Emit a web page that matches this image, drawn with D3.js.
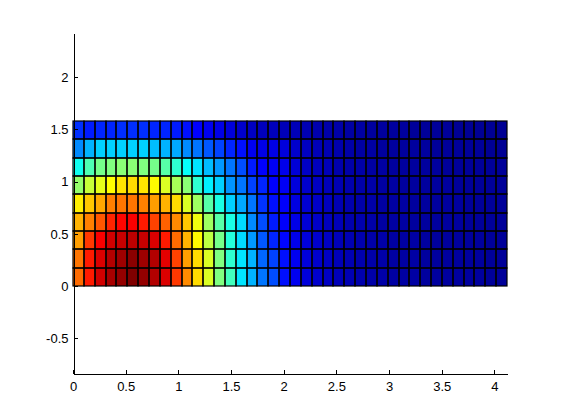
<!DOCTYPE html>
<html>
<head>
<meta charset="utf-8">
<script src="https://d3js.org/d3.v7.min.js"></script>
<style>
    body { margin: 0; background: #fff; }
    text { font-family: "Liberation Sans", Arial, sans-serif; font-size: 13px; fill: #000; }
</style>
</head>
<body>
<div id="chart"></div>
<script>
// Grid extent (data units) and cell counts
const gridWidth = 4.12, gridHeight = 1.58;
const nCols = 40, nRows = 9;

// Axis limits and tick values
const xLimits = [0, 4.12];
const yLimits = [-0.83, 2.42];
const xTicks = [0, 0.5, 1, 1.5, 2, 2.5, 3, 3.5, 4];
const yTicks = [-0.5, 0, 0.5, 1, 1.5, 2];

// Cell values (0..1, jet colormap), one array per row, bottom row first
const row0 = [0.77, 0.85, 0.92, 0.96, 0.98, 1.00, 0.98, 0.95, 0.91, 0.82,
              0.74, 0.66, 0.59, 0.50, 0.44, 0.35, 0.30, 0.24, 0.20, 0.14,
              0.11, 0.09, 0.075, 0.065, 0.055, 0.05, 0.045, 0.04, 0.04, 0.035,
              0.035, 0.035, 0.03, 0.03, 0.03, 0.03, 0.03, 0.03, 0.025, 0.025];
const row1 = [0.76, 0.85, 0.91, 0.95, 0.97, 0.99, 0.97, 0.95, 0.90, 0.81,
              0.72, 0.66, 0.59, 0.50, 0.42, 0.35, 0.30, 0.225, 0.19, 0.14,
              0.11, 0.09, 0.075, 0.065, 0.055, 0.05, 0.045, 0.04, 0.04, 0.035,
              0.035, 0.035, 0.03, 0.03, 0.03, 0.03, 0.03, 0.03, 0.025, 0.025];
const row2 = [0.72, 0.82, 0.88, 0.92, 0.93, 0.94, 0.93, 0.91, 0.85, 0.77,
              0.70, 0.63, 0.56, 0.49, 0.41, 0.34, 0.275, 0.21, 0.16, 0.13,
              0.105, 0.09, 0.075, 0.065, 0.055, 0.05, 0.045, 0.04, 0.04, 0.035,
              0.035, 0.035, 0.03, 0.03, 0.03, 0.03, 0.03, 0.03, 0.025, 0.025];
const row3 = [0.70, 0.75, 0.79, 0.84, 0.87, 0.88, 0.85, 0.81, 0.78, 0.74,
              0.68, 0.61, 0.53, 0.46, 0.40, 0.34, 0.26, 0.20, 0.15, 0.12,
              0.10, 0.085, 0.07, 0.06, 0.055, 0.045, 0.045, 0.04, 0.035, 0.035,
              0.035, 0.03, 0.03, 0.03, 0.03, 0.03, 0.025, 0.025, 0.025, 0.025];
const row4 = [0.64, 0.68, 0.71, 0.75, 0.76, 0.76, 0.75, 0.72, 0.70, 0.66,
              0.59, 0.53, 0.46, 0.40, 0.33, 0.29, 0.24, 0.175, 0.14, 0.12,
              0.095, 0.08, 0.07, 0.06, 0.05, 0.045, 0.04, 0.04, 0.035, 0.035,
              0.035, 0.03, 0.03, 0.03, 0.03, 0.03, 0.025, 0.025, 0.025, 0.025];
const row5 = [0.52, 0.57, 0.60, 0.625, 0.65, 0.66, 0.65, 0.63, 0.59, 0.54,
              0.51, 0.42, 0.36, 0.33, 0.27, 0.24, 0.19, 0.16, 0.125, 0.115,
              0.09, 0.075, 0.065, 0.055, 0.05, 0.045, 0.04, 0.04, 0.035, 0.035,
              0.03, 0.03, 0.03, 0.03, 0.03, 0.025, 0.025, 0.025, 0.025, 0.025];
const row6 = [0.39, 0.45, 0.49, 0.50, 0.51, 0.51, 0.50, 0.49, 0.46, 0.42,
              0.38, 0.35, 0.31, 0.275, 0.24, 0.20, 0.15, 0.125, 0.115, 0.105,
              0.085, 0.07, 0.06, 0.055, 0.045, 0.04, 0.04, 0.035, 0.035, 0.03,
              0.03, 0.03, 0.03, 0.03, 0.025, 0.025, 0.025, 0.025, 0.025, 0.025];
const row7 = [0.26, 0.30, 0.33, 0.33, 0.33, 0.33, 0.33, 0.31, 0.30, 0.29,
              0.26, 0.24, 0.21, 0.19, 0.16, 0.14, 0.11, 0.10, 0.10, 0.09,
              0.075, 0.065, 0.055, 0.05, 0.045, 0.04, 0.035, 0.035, 0.03, 0.03,
              0.03, 0.03, 0.03, 0.025, 0.025, 0.025, 0.025, 0.025, 0.02, 0.02];
const row8 = [0.17, 0.15, 0.16, 0.16, 0.17, 0.17, 0.17, 0.16, 0.16, 0.15,
              0.14, 0.125, 0.11, 0.10, 0.09, 0.075, 0.065, 0.06, 0.06, 0.055,
              0.055, 0.05, 0.045, 0.04, 0.04, 0.035, 0.035, 0.03, 0.03, 0.03,
              0.03, 0.025, 0.025, 0.025, 0.025, 0.02, 0.02, 0.02, 0.02, 0.02];
const rows = [row0, row1, row2, row3, row4, row5, row6, row7, row8];

// MATLAB-style jet colormap
function jet(v) {
    const c = t => Math.round(255 * Math.max(0, Math.min(1, t)));
    return `rgb(${c(1.5 - Math.abs(4 * v - 3))},${c(1.5 - Math.abs(4 * v - 2))},${c(1.5 - Math.abs(4 * v - 1))})`;
}

const svg = d3.select("#chart")
    .append("svg")
    .attr("width", 561)
    .attr("height", 420);

const x = d3.scaleLinear().domain(xLimits).range([73, 507]);
const y = d3.scaleLinear().domain(yLimits).range([373, 33]);

const dx = gridWidth / nCols, dy = gridHeight / nRows;

// pixel-snapped cell edges
const px = v => Math.round(x(v));
const py = v => Math.round(y(v));

// Flatten grid into cells
const cells = [];
rows.forEach((r, i) => r.forEach((v, j) => cells.push({ row: i, col: j, value: v })));

const cellRect = sel => sel
    .attr("x", d => px(d.col * dx))
    .attr("y", d => py((d.row + 1) * dy))
    .attr("width", d => px((d.col + 1) * dx) - px(d.col * dx))
    .attr("height", d => py(d.row * dy) - py((d.row + 1) * dy));

// fills first, then the edges on top so no fill covers a line
svg.append("g")
    .selectAll("rect")
    .data(cells)
    .join("rect")
    .call(cellRect)
    .attr("fill", d => jet(d.value));

svg.append("g")
    .selectAll("rect")
    .data(cells)
    .join("rect")
    .call(cellRect)
    .attr("fill", "none")
    .attr("stroke", "#000")
    .attr("stroke-width", 1.2);

// Axes (ticks pointing inward, like MATLAB)
const xAxis = svg.append("g")
    .attr("transform", "translate(0,373.5)")
    .call(d3.axisBottom(x).tickValues(xTicks).tickFormat(d => String(d))
        .tickSizeInner(-4).tickSizeOuter(0).tickPadding(8));

const yAxis = svg.append("g")
    .attr("transform", "translate(73.5,0)")
    .call(d3.axisLeft(y).tickValues(yTicks).tickFormat(d => String(d))
        .tickSizeInner(-4).tickSizeOuter(0).tickPadding(5));

[xAxis, yAxis].forEach(a => {
    a.attr("font-family", null).attr("font-size", null);
    a.selectAll("path, line").attr("stroke", "#000").attr("shape-rendering", "crispEdges");
});
</script>
</body>
</html>
